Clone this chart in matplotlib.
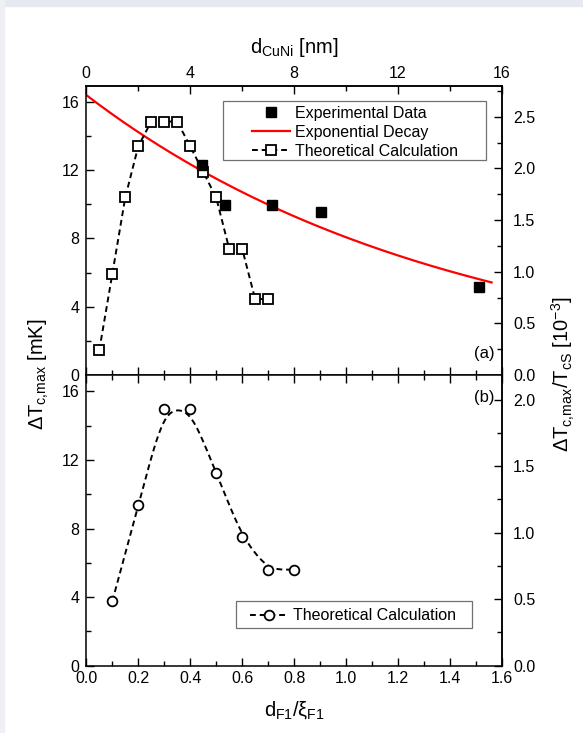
import numpy as np
import matplotlib
matplotlib.use("Agg")
import matplotlib.pyplot as plt
from matplotlib.ticker import MultipleLocator
from matplotlib.patches import Rectangle

plt.rcParams['font.family'] = ['Liberation Sans', 'DejaVu Sans']
plt.rcParams['mathtext.fontset'] = 'custom'
plt.rcParams['mathtext.rm'] = 'Liberation Sans'
plt.rcParams['mathtext.it'] = 'Liberation Sans'
plt.rcParams['mathtext.sf'] = 'Liberation Sans'

# (a) experimental points, thickness in nm and dTc in mK
d_exp = [4.45, 5.35, 7.15, 9.05, 15.1]
dtc_exp = [12.3, 9.95, 9.95, 9.55, 5.15]

# (a) exponential decay fit  dTc = A*exp(-d/t)
fit_A = 16.4
fit_t = 14.1
fit_range = (0.0, 15.6)

# (a) theoretical calculation vs d_CuNi [nm]
d_th = [0.5, 1.0, 1.5, 2.0, 2.5, 3.0, 3.5, 4.0, 4.5, 5.0, 5.5, 6.0, 6.5, 7.0]
dtc_th = [1.45, 5.9, 10.4, 13.4, 14.85, 14.85, 14.85, 13.4, 11.9, 10.4,
          7.4, 7.4, 4.45, 4.45]

# (b) theoretical calculation vs d_F1/xi_F1
r_th = [0.1, 0.2, 0.3, 0.4, 0.5, 0.6, 0.7, 0.8]
dtc_r = [3.75, 9.35, 14.95, 14.95, 11.25, 7.5, 5.6, 5.6]

# mK per 10^-3 for the right hand axes
Tcs_a = 6.05
Tcs_b = 7.76

TICK_FS = 11.5

fig = plt.figure(figsize=(5.83, 7.33), dpi=100)
fig.patches.append(Rectangle((0, 0.992), 1, 0.008, transform=fig.transFigure,
                             color='#e6e9ef', zorder=-1))
fig.patches.append(Rectangle((0, 0), 0.007, 1, transform=fig.transFigure,
                             color='#eef0f3', zorder=-1))

ax1 = fig.add_axes([0.148, 0.4884, 0.713, 0.3947])
ax2 = fig.add_axes([0.148, 0.0918, 0.713, 0.3966])


def style(ax):
    for s in ax.spines.values():
        s.set_linewidth(1.1)
    ax.tick_params(which='both', direction='in', width=1.0, labelsize=TICK_FS)
    ax.tick_params(which='major', length=6)
    ax.tick_params(which='minor', length=3.5)


def legend_box(ax, x0, y0, w, h):
    # plain rectangular frame drawn behind the legend entries
    ax.add_patch(Rectangle((x0, y0), w, h, transform=ax.transAxes,
                           facecolor='white', edgecolor='#707070', lw=0.9,
                           zorder=5))


# ---- panel (a)
x = np.linspace(fit_range[0], fit_range[1], 200)
ax1.plot(x, fit_A * np.exp(-x / fit_t), color='red', lw=1.6,
         label='Exponential Decay', zorder=2)
ax1.plot(d_th, dtc_th, color='black', lw=1.4, dashes=(3, 2), marker='s',
         ms=6.5, mfc='white', mec='black', mew=1.3,
         label='Theoretical Calculation', zorder=3)
ax1.plot(d_exp, dtc_exp, ls='none', marker='s', ms=7, color='black',
         label='Experimental Data', zorder=4)
ax1.set_xlim(0, 16)
ax1.set_ylim(0, 16.95)
ax1.xaxis.set_major_locator(MultipleLocator(2))
ax1.xaxis.set_minor_locator(MultipleLocator(1))
ax1.yaxis.set_major_locator(MultipleLocator(4))
ax1.yaxis.set_minor_locator(MultipleLocator(2))
style(ax1)
ax1.tick_params(labelbottom=False)
ax1.tick_params(axis='y', pad=5)

top = ax1.secondary_xaxis('top')
top.xaxis.set_major_locator(MultipleLocator(4))
top.xaxis.set_minor_locator(MultipleLocator(2))
style(top)
top.set_xlabel(r'd$_\mathrm{CuNi}$ [nm]', fontsize=14.5, labelpad=9)

ra = ax1.secondary_yaxis('right', functions=(lambda y: y / Tcs_a,
                                             lambda y: y * Tcs_a))
ra.yaxis.set_major_locator(MultipleLocator(0.5))
ra.yaxis.set_minor_locator(MultipleLocator(0.25))
ra.yaxis.set_major_formatter(lambda v, p: '%.1f' % v)
style(ra)
ra.tick_params(pad=8)

legend_box(ax1, 0.328, 0.743, 0.633, 0.205)
h, l = ax1.get_legend_handles_labels()
order = [2, 0, 1]
leg = ax1.legend([h[i] for i in order], [l[i] for i in order],
                 loc='upper left', bbox_to_anchor=(0.399, 0.93),
                 fontsize=11.5, frameon=False, handlelength=2.4,
                 labelspacing=0.25, borderpad=0, handletextpad=0.3,
                 borderaxespad=0)
leg.set_zorder(6)
ax1.text(0.957, 0.076, '(a)', transform=ax1.transAxes, fontsize=12,
         ha='center', va='center')

# ---- panel (b): dashed guide smoothed through the calculated points
step = 0.002
xs = np.arange(r_th[0] - 0.1, r_th[-1] + 0.1 + step / 2, step)
ys = np.interp(xs, r_th, dtc_r)
lo = xs < r_th[0]
ys[lo] = dtc_r[0] + (xs[lo] - r_th[0]) * (dtc_r[1] - dtc_r[0]) / (r_th[1] - r_th[0])
k = np.arange(-45, 46) * step
ker = np.exp(-0.5 * (k / 0.032) ** 2)
ker /= ker.sum()
ysm = np.convolve(ys, ker, mode='same')
keep = (xs >= r_th[0]) & (xs <= r_th[-1])
ax2.plot(xs[keep], ysm[keep], color='black', lw=1.4, dashes=(3, 2), zorder=2)
ax2.plot(r_th, dtc_r, ls='none', marker='o', ms=7, mfc='white', mec='black',
         mew=1.3, zorder=3)
leg_h, = ax2.plot([], [], color='black', lw=1.4, dashes=(3, 2), marker='o',
                  ms=7, mfc='white', mec='black', mew=1.3)
legend_box(ax2, 0.360, 0.130, 0.567, 0.0914)
leg2 = ax2.legend([leg_h], ['Theoretical Calculation'], loc='upper left',
                  bbox_to_anchor=(0.394, 0.198), fontsize=11.5, frameon=False,
                  handlelength=2.4, borderpad=0, handletextpad=0.3,
                  borderaxespad=0)
leg2.set_zorder(6)
ax2.text(0.957, 0.923, '(b)', transform=ax2.transAxes, fontsize=12,
         ha='center', va='center')

ax2.set_xlim(0, 1.6)
ax2.set_ylim(0, 16.95)
ax2.xaxis.set_major_locator(MultipleLocator(0.2))
ax2.xaxis.set_minor_locator(MultipleLocator(0.1))
ax2.xaxis.set_major_formatter(lambda v, p: '%.1f' % v)
ax2.yaxis.set_major_locator(MultipleLocator(4))
ax2.yaxis.set_minor_locator(MultipleLocator(2))
style(ax2)
ax2.tick_params(which='both', top=True)
ax2.tick_params(axis='y', pad=5)
ax2.set_xlabel(r'd$_\mathrm{F1}$/$\xi_\mathrm{F1}$', fontsize=14.5, labelpad=10)

rb = ax2.secondary_yaxis('right', functions=(lambda y: y / Tcs_b,
                                             lambda y: y * Tcs_b))
rb.yaxis.set_major_locator(MultipleLocator(0.5))
rb.yaxis.set_minor_locator(MultipleLocator(0.25))
rb.yaxis.set_major_formatter(lambda v, p: '%.1f' % v)
style(rb)
rb.tick_params(pad=8)

fig.text(0.066, 0.49, r'$\Delta$T$_\mathrm{c{,}max}$ [mK]', rotation=90,
         fontsize=14.5, ha='center', va='center')
fig.text(0.966, 0.49, r'$\Delta$T$_\mathrm{c{,}max}$/T$_\mathrm{cS}$ [10$^{-3}$]',
         rotation=90, fontsize=14.5, ha='center', va='center')

fig.savefig('out.png', dpi=100)
